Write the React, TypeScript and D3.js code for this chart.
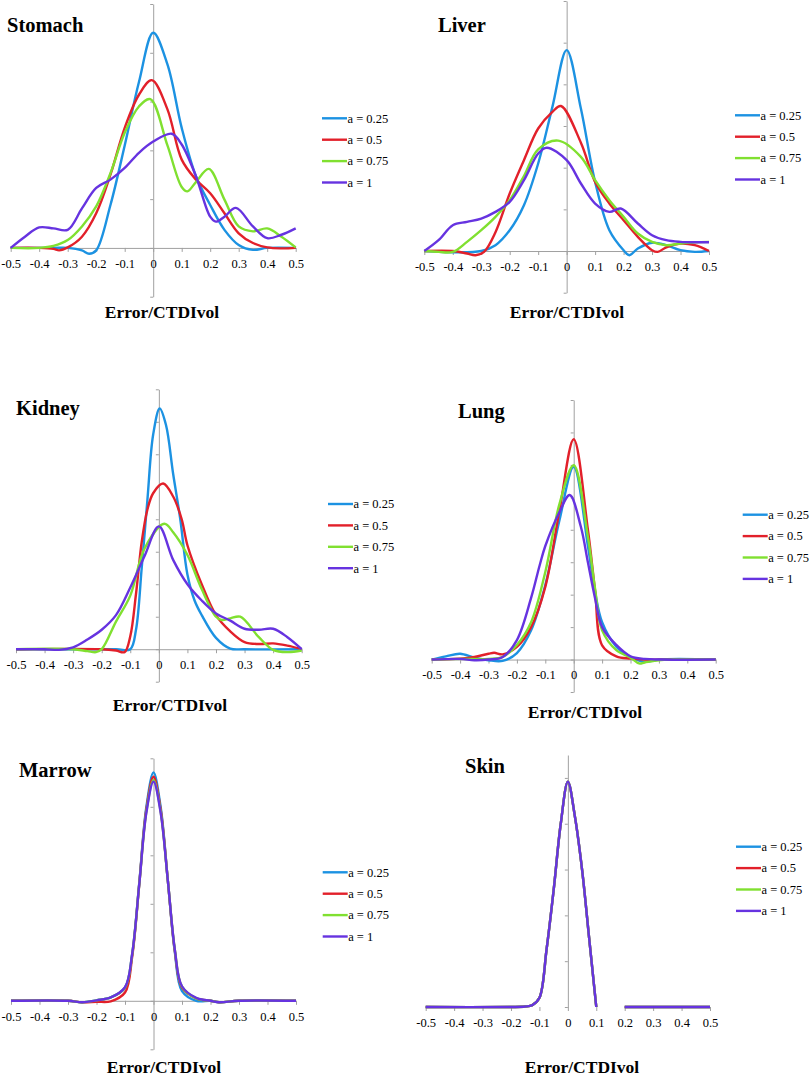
import * as d3 from "d3";
import { useEffect, useRef } from "react";

// legend entries shared by every panel
const seriesLabels = ["a = 0.25", "a = 0.5", "a = 0.75", "a = 1"];
const seriesColors = ["#1c92e2", "#e2202a", "#80e030", "#6633e0"];
const xTicks = [-0.5, -0.4, -0.3, -0.2, -0.1, 0, 0.1, 0.2, 0.3, 0.4, 0.5];

// Stomach
const stomach025 = [[-0.5,0],[-0.35,0],[-0.3,0],[-0.25,-0.05],[-0.225,-0.12],[-0.2,-0.05],[-0.15,0.88],[-0.1,2.1],[-0.05,3.4],[0,4.41],[0.05,3.76],[0.1,2.46],[0.15,1.47],[0.2,0.88],[0.25,0.37],[0.3,0.06],[0.35,-0.04],[0.4,0],[0.5,0]];
const stomach05 = [[-0.5,0],[-0.4,0],[-0.35,-0.02],[-0.33,-0.05],[-0.3,0.01],[-0.25,0.23],[-0.2,0.71],[-0.15,1.5],[-0.1,2.46],[-0.05,3.14],[-0.005,3.44],[0.05,2.84],[0.1,1.81],[0.15,1.4],[0.2,1.12],[0.25,0.71],[0.3,0.3],[0.35,0.1],[0.4,0.01],[0.45,-0.01],[0.5,0]];
const stomach075 = [[-0.5,0],[-0.4,0],[-0.35,0.04],[-0.3,0.16],[-0.25,0.44],[-0.2,0.85],[-0.15,1.53],[-0.1,2.36],[-0.05,2.9],[-0.01,3.05],[0.05,2.1],[0.1,1.25],[0.12,1.16],[0.15,1.35],[0.195,1.62],[0.25,0.99],[0.3,0.44],[0.35,0.34],[0.4,0.4],[0.45,0.23],[0.5,0.01]];
const stomach1 = [[-0.5,0],[-0.45,0.23],[-0.4,0.42],[-0.35,0.4],[-0.3,0.37],[-0.25,0.81],[-0.2,1.23],[-0.15,1.4],[-0.1,1.64],[-0.05,1.95],[0,2.18],[0.065,2.34],[0.1,2.12],[0.15,1.47],[0.2,0.64],[0.22,0.54],[0.25,0.64],[0.29,0.82],[0.35,0.44],[0.4,0.2],[0.45,0.27],[0.5,0.4]];

// Liver
const liver025 = [[-0.5,0],[-0.3,0],[-0.25,0.14],[-0.2,0.5],[-0.15,1.1],[-0.1,2.1],[-0.05,3.46],[0,4.82],[0.05,3.42],[0.1,1.66],[0.15,0.5],[0.2,0.02],[0.22,-0.1],[0.25,0.06],[0.3,0.2],[0.35,0.14],[0.4,0.02],[0.45,-0.02],[0.5,0]];
const liver05 = [[-0.5,0],[-0.4,0],[-0.35,-0.06],[-0.32,-0.1],[-0.29,-0.02],[-0.25,0.45],[-0.2,1.38],[-0.15,2.18],[-0.1,2.94],[-0.05,3.34],[-0.02,3.48],[0.05,2.6],[0.1,1.66],[0.15,1.14],[0.2,0.74],[0.25,0.34],[0.3,0.02],[0.32,-0.02],[0.35,0.09],[0.4,0.18],[0.45,0.14],[0.5,0]];
const liver075 = [[-0.5,0],[-0.45,-0.02],[-0.4,-0.02],[-0.35,0.22],[-0.3,0.5],[-0.25,0.82],[-0.2,1.22],[-0.15,1.8],[-0.1,2.44],[-0.03,2.65],[0.05,2.26],[0.1,1.7],[0.15,1.22],[0.2,0.82],[0.25,0.42],[0.3,0.22],[0.35,0.14],[0.4,0.18],[0.45,0.21],[0.5,0.22]];
const liver1 = [[-0.5,0],[-0.45,0.26],[-0.4,0.62],[-0.35,0.7],[-0.3,0.78],[-0.25,0.94],[-0.2,1.18],[-0.15,1.7],[-0.1,2.34],[-0.07,2.48],[0,2.18],[0.05,1.62],[0.1,1.14],[0.15,0.94],[0.19,1.02],[0.25,0.66],[0.3,0.38],[0.35,0.26],[0.4,0.22],[0.45,0.21],[0.5,0.21]];

// Kidney
const kidney025 = [[-0.5,0],[-0.15,0],[-0.1,0],[-0.08,0.6],[-0.06,2.5],[-0.04,4.6],[-0.02,6.6],[0.003,7.41],[0.025,6.9],[0.05,5.4],[0.075,4.0],[0.1,2.3],[0.125,1.5],[0.15,1.05],[0.2,0.35],[0.25,0.02],[0.3,0],[0.5,0]];
const kidney05 = [[-0.5,0],[-0.2,0],[-0.15,-0.04],[-0.12,-0.09],[-0.1,0.4],[-0.08,1.7],[-0.06,3.3],[-0.04,4.3],[-0.02,4.8],[0.015,5.1],[0.05,4.7],[0.08,4.0],[0.1,3.2],[0.15,2.0],[0.2,1.05],[0.25,0.55],[0.3,0.22],[0.35,0.16],[0.4,0.18],[0.45,0.11],[0.5,0]];
const kidney075 = [[-0.5,0],[-0.3,0],[-0.25,-0.06],[-0.22,-0.09],[-0.2,0],[-0.15,0.85],[-0.1,1.65],[-0.05,3.1],[0.019,3.86],[0.05,3.6],[0.1,2.9],[0.15,1.85],[0.2,1.0],[0.22,0.9],[0.25,0.95],[0.285,1.0],[0.35,0.37],[0.4,-0.02],[0.45,-0.09],[0.5,-0.04]];
const kidney1 = [[-0.5,0],[-0.4,0],[-0.35,-0.02],[-0.3,0.06],[-0.25,0.3],[-0.2,0.6],[-0.15,1.05],[-0.1,1.9],[-0.05,2.87],[0,3.78],[0.05,2.75],[0.1,2.0],[0.15,1.5],[0.2,1.1],[0.25,0.88],[0.3,0.63],[0.35,0.6],[0.4,0.63],[0.45,0.37],[0.5,0]];

// Lung
const lung025 = [[-0.5,0],[-0.45,0.1],[-0.4,0.18],[-0.35,0.06],[-0.3,-0.02],[-0.25,-0.04],[-0.2,0.2],[-0.15,0.9],[-0.1,2.3],[-0.05,4.3],[0,5.94],[0.05,3.5],[0.075,2.1],[0.1,1.15],[0.15,0.4],[0.2,0.08],[0.25,-0.07],[0.3,0],[0.5,0]];
const lung05 = [[-0.5,0],[-0.4,0.03],[-0.35,0.08],[-0.3,0.18],[-0.28,0.21],[-0.25,0.16],[-0.2,0.39],[-0.15,1.0],[-0.1,2.24],[-0.05,4.6],[0,6.79],[0.05,4.0],[0.075,2.14],[0.1,0.44],[0.15,0.1],[0.2,0.03],[0.25,0],[0.5,0]];
const lung075 = [[-0.5,0],[-0.4,0.02],[-0.3,0.02],[-0.25,0.08],[-0.2,0.45],[-0.15,1.15],[-0.1,2.7],[-0.05,4.8],[0,5.99],[0.05,3.78],[0.075,2.2],[0.1,0.9],[0.15,0.29],[0.2,0.06],[0.23,-0.12],[0.25,-0.09],[0.3,-0.02],[0.35,0],[0.5,0]];
const lung1 = [[-0.5,0],[-0.4,0.02],[-0.35,-0.02],[-0.3,0],[-0.25,0.08],[-0.2,0.6],[-0.15,1.9],[-0.12,2.9],[-0.1,3.5],[-0.05,4.55],[-0.014,5.07],[0.025,4.1],[0.05,3.0],[0.075,1.9],[0.1,1.0],[0.15,0.45],[0.2,0.1],[0.25,0.02],[0.3,0],[0.5,0]];

// Marrow
const marrow025 = [[-0.5,0],[-0.3,0],[-0.25,-0.03],[-0.2,0.01],[-0.15,0.07],[-0.1,0.27],[-0.075,0.95],[-0.05,2.43],[-0.025,4.0],[0,4.71],[0.025,4.0],[0.05,2.5],[0.075,1.0],[0.1,0.2],[0.15,0],[0.2,0],[0.23,-0.03],[0.3,0],[0.5,0]];
const marrow05 = [[-0.5,0],[-0.3,0],[-0.25,-0.03],[-0.2,-0.02],[-0.15,-0.01],[-0.1,0.17],[-0.075,0.9],[-0.05,2.4],[-0.025,3.95],[0,4.62],[0.025,3.95],[0.05,2.5],[0.075,1.02],[0.1,0.27],[0.15,0.05],[0.2,0],[0.23,-0.03],[0.3,0],[0.5,0]];
const marrow075 = [[-0.5,0],[-0.3,0],[-0.25,-0.03],[-0.2,0.01],[-0.15,0.07],[-0.1,0.27],[-0.075,0.95],[-0.05,2.4],[-0.025,3.9],[0,4.55],[0.025,3.9],[0.05,2.5],[0.075,1.05],[0.1,0.29],[0.15,0.05],[0.2,0],[0.23,-0.03],[0.3,0],[0.5,0]];
const marrow1 = [[-0.5,0],[-0.3,0],[-0.25,-0.03],[-0.2,0.01],[-0.15,0.07],[-0.1,0.28],[-0.075,0.96],[-0.05,2.4],[-0.025,3.88],[0,4.52],[0.025,3.88],[0.05,2.5],[0.075,1.05],[0.1,0.3],[0.15,0.06],[0.2,0],[0.23,-0.03],[0.3,0],[0.5,0]];

// Skin: all four curves coincide, with a gap between 0.1 and 0.2
const skinCurve = [[-0.5,0],[-0.2,0],[-0.15,0.01],[-0.125,0.04],[-0.1,0.2],[-0.075,1.25],[-0.05,2.55],[-0.025,4.0],[0,4.92],[0.025,4.15],[0.05,3.0],[0.075,1.5],[0.1,0],[0.15,null],[0.2,0],[0.5,0]];

const panels = [
  { title: "Stomach", series: [stomach025, stomach05, stomach075, stomach1], yDomain: [-1, 5],
    xRange: [10.7, 295.7], yRange: [296.7, 4], titleAt: [7, 32], legendAt: [322, 118.3], axisTitleAt: [162, 318], xLine: true },
  { title: "Liver", series: [liver025, liver05, liver075, liver1], yDomain: [-1, 6],
    xRange: [424.3, 709], yRange: [292.7, 1], titleAt: [438, 32], legendAt: [735, 115.3], axisTitleAt: [567, 318], xLine: true },
  { title: "Kidney", series: [kidney025, kidney05, kidney075, kidney1], yDomain: [-1, 8],
    xRange: [16, 301.7], yRange: [681.7, 389.3], titleAt: [16, 415], legendAt: [328, 504], axisTitleAt: [170, 711], xLine: true },
  { title: "Lung", series: [lung025, lung05, lung075, lung1], yDomain: [-1, 8],
    xRange: [431.7, 715.7], yRange: [692, 400], titleAt: [458, 418], legendAt: [742.7, 514.7], axisTitleAt: [585, 718], xLine: true },
  { title: "Marrow", series: [marrow025, marrow05, marrow075, marrow1], yDomain: [-1, 5],
    xRange: [11, 296], yRange: [1049.3, 758.3], titleAt: [19, 777], legendAt: [322.7, 872.3], axisTitleAt: [164, 1073], xLine: true },
  { title: "Skin", series: [skinCurve, skinCurve, skinCurve, skinCurve], yDomain: [0, 5.5],
    xRange: [425.7, 710], yRange: [1007, 755], titleAt: [465, 773], legendAt: [736, 846.7], axisTitleAt: [582, 1073], xLine: false },
];

const serif = "Liberation Serif, DejaVu Serif, serif";
const axisColor = "#a0a0a0";

export default function App() {
  const svgRef = useRef<SVGSVGElement>(null);

  useEffect(() => {
    if (!svgRef.current) return;
    const svg = d3.select(svgRef.current);
    svg.selectAll("*").remove();

    panels.forEach((p) => {
      const x = d3.scaleLinear().domain([-0.5, 0.5]).range(p.xRange);
      const y = d3.scaleLinear().domain(p.yDomain).range(p.yRange);
      const g = svg.append("g");

      // vertical axis through x = 0, no labels
      const yTicks = d3.range(p.yDomain[0], Math.floor(p.yDomain[1]) + 0.001, 1);
      const ya = g.append("g")
        .attr("transform", `translate(${x(0)},0)`)
        .call(d3.axisLeft(y).tickValues(yTicks).tickSize(3).tickSizeOuter(0).tickFormat(() => ""));
      ya.select(".domain").attr("stroke", axisColor);
      ya.selectAll(".tick line").attr("stroke", axisColor);

      // horizontal axis at y = 0
      const xa = g.append("g")
        .attr("transform", `translate(0,${y(0)})`)
        .call(d3.axisBottom(x).tickValues(xTicks).tickSize(4).tickSizeOuter(0)
          .tickFormat((v) => (Math.abs(+v) < 1e-9 ? "0" : String(+(+v).toFixed(1)))));
      xa.attr("font-family", serif).attr("font-size", 12.5);
      xa.select(".domain").attr("stroke", p.xLine ? axisColor : "none");
      xa.selectAll(".tick line").attr("stroke", axisColor);
      xa.selectAll("text").attr("y", 11).attr("fill", "#000");

      // curves
      const line = d3.line()
        .defined((d) => d[1] !== null)
        .x((d) => x(d[0]))
        .y((d) => y(d[1]))
        .curve(d3.curveCatmullRom.alpha(0.5));

      p.series.forEach((s, i) => {
        g.append("path")
          .attr("d", line(s))
          .attr("fill", "none")
          .attr("stroke", seriesColors[i])
          .attr("stroke-width", 2.4)
          .attr("stroke-linejoin", "round");
      });

      // title
      g.append("text")
        .attr("x", p.titleAt[0])
        .attr("y", p.titleAt[1])
        .attr("font-family", serif)
        .attr("font-weight", "bold")
        .attr("font-size", 20.5)
        .text(p.title);

      // axis title
      g.append("text")
        .attr("x", p.axisTitleAt[0])
        .attr("y", p.axisTitleAt[1])
        .attr("text-anchor", "middle")
        .attr("font-family", serif)
        .attr("font-weight", "bold")
        .attr("font-size", 17.5)
        .text("Error/CTDIvol");

      // legend
      seriesLabels.forEach((label, i) => {
        const ly = p.legendAt[1] + i * 21.4;
        g.append("line")
          .attr("x1", p.legendAt[0])
          .attr("x2", p.legendAt[0] + 25)
          .attr("y1", ly)
          .attr("y2", ly)
          .attr("stroke", seriesColors[i])
          .attr("stroke-width", 2.4);
        g.append("text")
          .attr("x", p.legendAt[0] + 25.5)
          .attr("y", ly)
          .attr("dy", "0.35em")
          .attr("font-family", serif)
          .attr("font-size", 12.5)
          .text(label);
      });
    });
  }, []);

  return (
    <svg
      ref={svgRef}
      width={810}
      height={1078}
      style={{ position: "absolute", left: 0, top: 0, background: "#fff" }}
    />
  );
}
